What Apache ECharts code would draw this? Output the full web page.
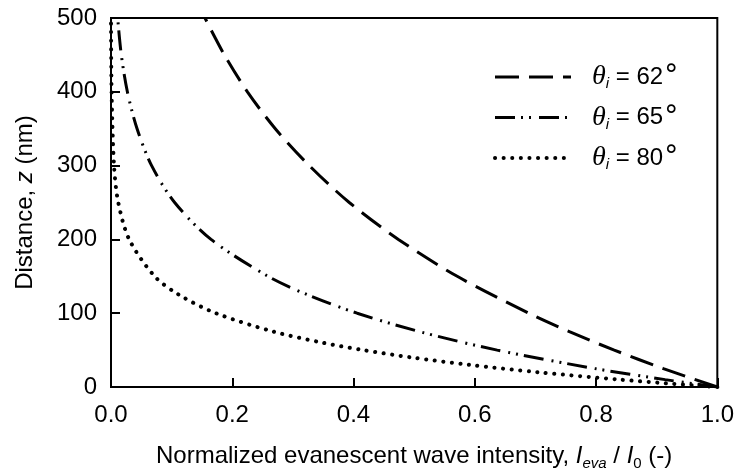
<!DOCTYPE html>
<html>
<head>
<meta charset="utf-8">
<script src="https://cdn.jsdelivr.net/npm/echarts@6/dist/echarts.min.js"></script>
<style>
  html, body { margin: 0; padding: 0; background: #fff; }
  #chart { width: 737px; height: 476px; }
</style>
</head>
<body>
<div id="chart"></div>
<script>
// angle labels (theta_i, degrees)
var angles = ["62", "65", "80"];

// distance z (nm) and normalized intensity I_eva/I_0
var z62 = [0, 25, 50, 75, 100, 150, 200, 250, 300, 350, 400, 450, 500];
var i62 = [1.0, 0.911, 0.830, 0.756, 0.689, 0.571, 0.474, 0.393, 0.327, 0.271, 0.225, 0.187, 0.155];

var z65 = [0, 10, 25, 50, 75, 100, 125, 150, 200, 250, 300, 350, 400, 450, 500];
var i65 = [1.0, 0.914, 0.798, 0.637, 0.509, 0.406, 0.324, 0.259, 0.165, 0.105, 0.067, 0.043, 0.027, 0.017, 0.011];

var z80 = [0, 5, 10, 20, 30, 40, 50, 60, 75, 100, 125, 150, 200, 250, 300, 400, 500];
var i80 = [1.0, 0.916, 0.839, 0.704, 0.591, 0.496, 0.416, 0.349, 0.268, 0.173, 0.112, 0.072, 0.030, 0.012, 0.005, 0.001, 0.0];

var xTicks = [0, 0.2, 0.4, 0.6, 0.8, 1.0];
var yTicks = [0, 100, 200, 300, 400, 500];

function pairs(xs, zs) {
  return xs.map(function (v, k) { return [v, zs[k]]; });
}

var font = "'Liberation Sans', Arial, sans-serif";
var fs = 24;
var dash62 = [24, 10];
var dash65 = [20, 6, 2, 6, 2, 8];
var dash80 = [0.1, 8.5];
var chart = echarts.init(document.getElementById("chart"));

chart.setOption({
  animation: false,
  textStyle: { fontFamily: font, color: "#000" },
  grid: {
    left: 111, right: 18, top: 18, bottom: 88,
    show: true, borderColor: "#000", borderWidth: 2
  },
  legend: {
    orient: "vertical",
    left: 488,
    top: 58,
    itemWidth: 76,
    itemHeight: 14,
    itemGap: 12,
    itemStyle: { opacity: 0 },
    data: [
      { name: "θ" + angles[0], lineStyle: { width: 3, type: dash62, color: "#000" } },
      { name: "θ" + angles[1], lineStyle: { width: 3, type: dash65, color: "#000" } },
      { name: "θ" + angles[2], lineStyle: { width: 4, type: dash80, cap: "round", color: "#000" } }
    ],
    formatter: function (name) {
      return "{t|θ}{s|i}{n| = " + name.slice(1) + "}{d|°}";
    },
    textStyle: {
      fontSize: fs,
      rich: {
        t: { fontFamily: "'Liberation Serif', serif", fontStyle: "italic", fontSize: 28, padding: [0, 0, 0, 16] },
        s: { fontFamily: font, fontStyle: "italic", fontSize: 15, verticalAlign: "bottom", padding: [14, 0, 0, 0] },
        n: { fontFamily: font, fontSize: fs },
        d: { fontFamily: "'DejaVu Sans', sans-serif", fontSize: 28, padding: [0, 0, 0, 1] }
      }
    }
  },
  xAxis: {
    type: "value",
    min: 0, max: 1, interval: 0.2,
    name: "{n|Normalized evanescent wave intensity, }{i|I}{s|eva}{n| / }{i|I}{u|0}{n| (-)}",
    nameLocation: "middle",
    nameGap: 55,
    nameTextStyle: {
      fontSize: fs,
      rich: {
        n: { fontSize: fs, fontFamily: font },
        i: { fontSize: fs, fontFamily: font, fontStyle: "italic" },
        s: { fontSize: 15, fontFamily: font, fontStyle: "italic", verticalAlign: "bottom", padding: [14, 0, 0, 0] },
        u: { fontSize: 15, fontFamily: font, verticalAlign: "bottom", padding: [14, 0, 0, 0] }
      }
    },
    axisLine: { lineStyle: { color: "#000", width: 2 } },
    axisTick: { inside: true, length: 9, lineStyle: { color: "#000", width: 2 } },
    axisLabel: {
      fontSize: fs, color: "#000", margin: 16,
      formatter: function (v) { return v.toFixed(1); }
    },
    splitLine: { show: false }
  },
  yAxis: {
    type: "value",
    min: 0, max: 500, interval: 100,
    name: "{n|Distance, }{i|z}{n| (nm)}",
    nameLocation: "middle",
    nameGap: 74,
    nameTextStyle: {
      fontSize: fs,
      rich: {
        n: { fontSize: fs, fontFamily: font },
        i: { fontSize: fs, fontFamily: font, fontStyle: "italic" }
      }
    },
    axisLine: { lineStyle: { color: "#000", width: 2 } },
    axisTick: { inside: true, length: 9, lineStyle: { color: "#000", width: 2 } },
    axisLabel: { fontSize: fs, color: "#000", margin: 14 },
    splitLine: { show: false }
  },
  series: [
    {
      name: "θ62", type: "line", symbol: "none", smooth: 0.3, color: "#000",
      data: pairs(i62, z62),
      lineStyle: { color: "#000", width: 3, type: dash62 }
    },
    {
      name: "θ65", type: "line", symbol: "none", smooth: 0.3, color: "#000",
      data: pairs(i65, z65),
      lineStyle: { color: "#000", width: 3, type: dash65 }
    },
    {
      name: "θ80", type: "line", symbol: "none", smooth: 0.3, color: "#000",
      data: pairs(i80, z80),
      lineStyle: { color: "#000", width: 4, type: dash80, cap: "round" }
    }
  ]
});
</script>
</body>
</html>
